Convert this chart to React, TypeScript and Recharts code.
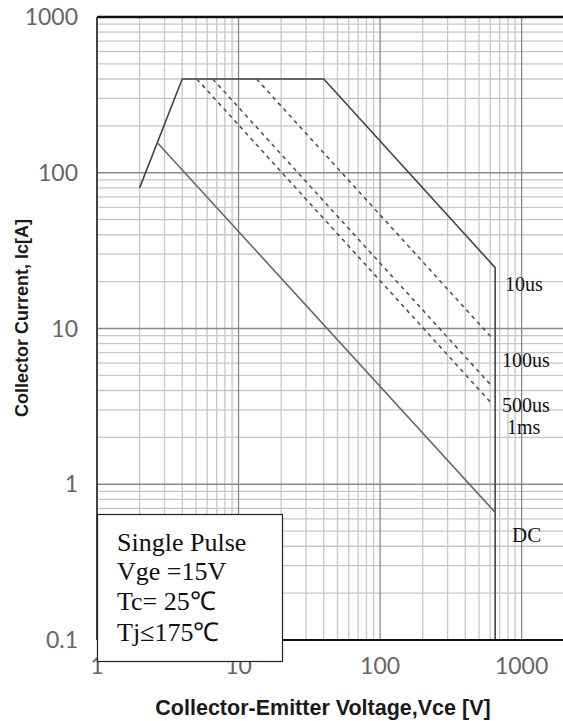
import React from 'react';
import { LineChart, Line, XAxis, YAxis, CartesianGrid, ReferenceLine } from 'recharts';

// Axis ticks
const voltageTicks = [1, 10, 100, 1000];
const currentTicks = [0.1, 1, 10, 100, 1000];
const minorSteps = [2, 3, 4, 5, 6, 7, 8, 9];
const voltageDecades = [1, 10, 100, 1000];
const currentDecades = [0.1, 1, 10, 100];

// SOA outline (10us)
const soaVce = [2, 4, 40, 650, 650];
const soaIc = [80, 400, 400, 24.6, 0.1];
// DC
const dcVce = [2.67, 650];
const dcIc = [156, 0.66];
// 100us
const us100Vce = [13.4, 620];
const us100Ic = [400, 8.65];
// 500us
const us500Vce = [6.57, 620];
const us500Ic = [400, 4.24];
// 1ms
const ms1Vce = [5.07, 620];
const ms1Ic = [400, 3.27];

const zip = (xs: number[], ys: number[]) => xs.map((v, k) => ({ v, i: ys[k] }));

const minorV = voltageDecades.flatMap((d) => minorSteps.map((m) => d * m)).filter((x) => x < 1960);
const minorI = currentDecades.flatMap((d) => minorSteps.map((m) => d * m));
const majorV = [10, 100, 1000];
const majorI = [1, 10, 100];

const serif = '"Liberation Serif", "Times New Roman", serif';
const sans = '"Liberation Sans", Arial, sans-serif';
const tickFont = 'Lato, "Liberation Sans", sans-serif';

export default function App() {
  return (
    <div style={{ position: 'absolute', left: 0, top: 0, width: 563, height: 721, overflow: 'hidden', background: '#fff' }}>
      <LineChart width={563} height={721} margin={{ top: 17, right: 0, bottom: 0, left: 0 }}>
        <CartesianGrid
          horizontalValues={minorI}
          verticalValues={minorV}
          stroke="#c8c8c8"
          strokeWidth={1.3}
        />
        <CartesianGrid
          horizontalValues={majorI}
          verticalValues={majorV}
          stroke="#8a8a8a"
          strokeWidth={1.3}
        />
        <XAxis
          type="number"
          dataKey="v"
          scale="log"
          domain={[1, 1960]}
          ticks={voltageTicks}
          allowDataOverflow
          height={81}
          tickLine={false}
          tickSize={0}
          tickMargin={18}
          axisLine={{ stroke: '#111', strokeWidth: 2 }}
          tick={{ fill: '#666', fontSize: 23, fontFamily: tickFont }}
          interval={0}
        />
        <YAxis
          type="number"
          dataKey="i"
          scale="log"
          domain={[0.1, 1000]}
          ticks={currentTicks}
          allowDataOverflow
          width={97}
          tickLine={false}
          tickSize={0}
          tickMargin={19}
          axisLine={{ stroke: '#444', strokeWidth: 2 }}
          tick={{ fill: '#666', fontSize: 23, fontFamily: tickFont }}
          interval={0}
        />
        <ReferenceLine y={1000} stroke="#111" strokeWidth={2.5} />
        <Line data={zip(soaVce, soaIc)} dataKey="i" stroke="#444" strokeWidth={1.6} dot={false} isAnimationActive={false} />
        <Line data={zip(dcVce, dcIc)} dataKey="i" stroke="#666" strokeWidth={1.6} dot={false} isAnimationActive={false} />
        <Line data={zip(us100Vce, us100Ic)} dataKey="i" stroke="#555" strokeWidth={1.6} strokeDasharray="4 4" dot={false} isAnimationActive={false} />
        <Line data={zip(us500Vce, us500Ic)} dataKey="i" stroke="#555" strokeWidth={1.6} strokeDasharray="4 4" dot={false} isAnimationActive={false} />
        <Line data={zip(ms1Vce, ms1Ic)} dataKey="i" stroke="#555" strokeWidth={1.6} strokeDasharray="4 4" dot={false} isAnimationActive={false} />
      </LineChart>
      <svg width={563} height={721} style={{ position: 'absolute', left: 0, top: 0, pointerEvents: 'none' }}>
        <g fontFamily={serif} fill="#111" fontSize={20}>
          <text x={505} y={284} dominantBaseline="central">10us</text>
          <text x={502} y={360} dominantBaseline="central">100us</text>
          <text x={502} y={405} dominantBaseline="central">500us</text>
          <text x={507} y={427} dominantBaseline="central">1ms</text>
          <text x={512} y={535} dominantBaseline="central" fontSize={21}>DC</text>
        </g>
        <rect x={97.5} y={514.5} width={185} height={147} fill="#fff" stroke="#222" strokeWidth={1.2} />
        <g fontFamily={serif} fill="#111" fontSize={26}>
          <text x={117} y={542} dominantBaseline="central">Single Pulse</text>
          <text x={117} y={571} dominantBaseline="central">Vge =15V</text>
          <text x={117} y={601} dominantBaseline="central">Tc= 25℃</text>
          <text x={117} y={632} dominantBaseline="central">Tj≤175℃</text>
        </g>
        <text x={323} y={708} textAnchor="middle" dominantBaseline="central" fontFamily={sans} fontWeight="bold" fontSize={21.5} fill="#1a1a1a">
          Collector-Emitter Voltage,Vce [V]
        </text>
        <text
          x={22}
          y={318}
          textAnchor="middle"
          dominantBaseline="central"
          fontFamily={sans}
          fontWeight="bold"
          fontSize={18}
          fill="#1a1a1a"
          transform="rotate(-90 22 318)"
        >
          Collector Current, Ic[A]
        </text>
      </svg>
    </div>
  );
}
